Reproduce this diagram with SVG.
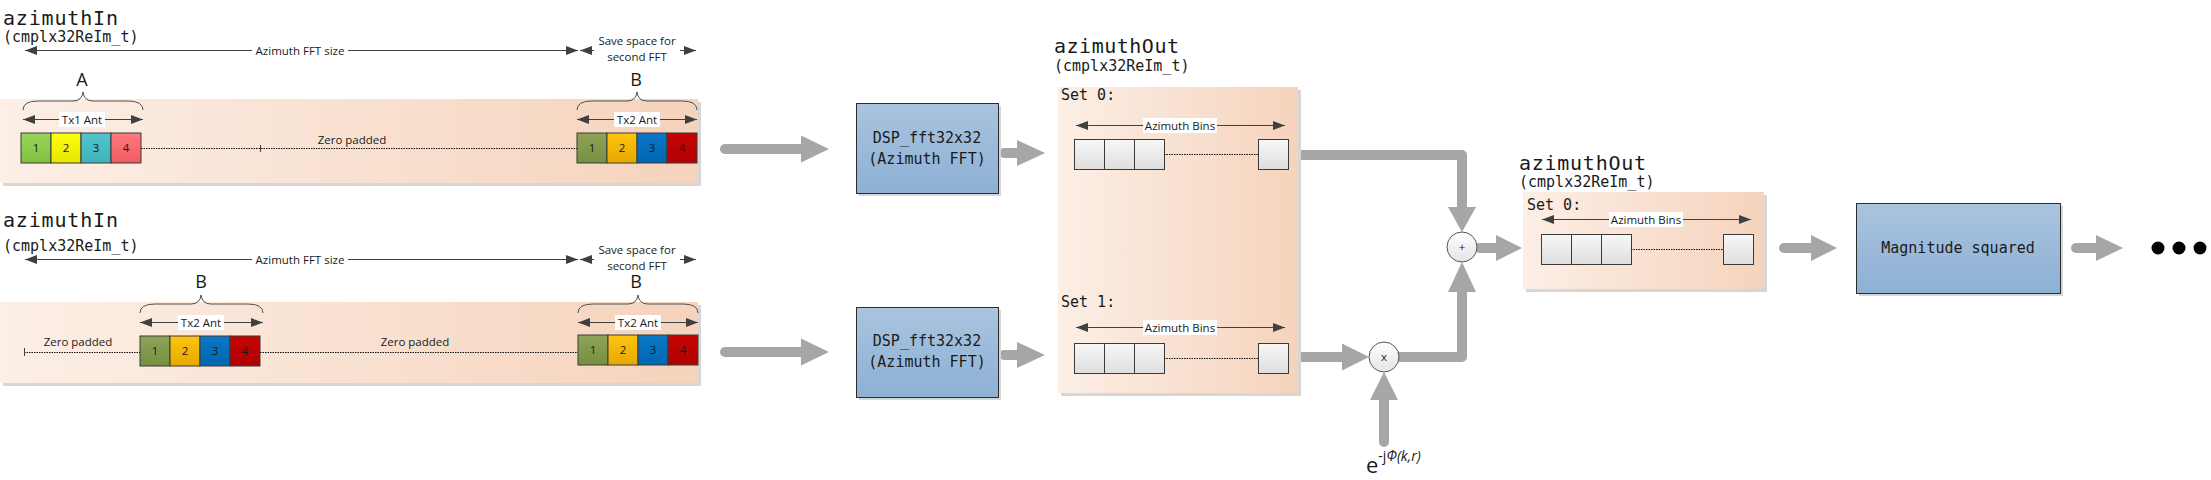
<svg xmlns="http://www.w3.org/2000/svg" width="2211" height="480" viewBox="0 0 2211 480">
<defs>
<linearGradient id="peach" x1="0" y1="0" x2="1" y2="0">
<stop offset="0" stop-color="#fcefe6"/>
<stop offset="1" stop-color="#f5d3bc"/>
</linearGradient>
<linearGradient id="blue" x1="0" y1="0" x2="0" y2="1">
<stop offset="0" stop-color="#a9c4df"/>
<stop offset="1" stop-color="#8db0d4"/>
</linearGradient>
<linearGradient id="cell" x1="0" y1="0" x2="0" y2="1">
<stop offset="0" stop-color="#f7f7f7"/>
<stop offset="1" stop-color="#dedede"/>
</linearGradient>
<linearGradient id="g1" x1="0" y1="0" x2="0" y2="1"><stop offset="0" stop-color="#9bd45a"/><stop offset="1" stop-color="#80c040"/></linearGradient>
<linearGradient id="g2" x1="0" y1="0" x2="0" y2="1"><stop offset="0" stop-color="#ffff10"/><stop offset="1" stop-color="#e6e600"/></linearGradient>
<linearGradient id="g3" x1="0" y1="0" x2="0" y2="1"><stop offset="0" stop-color="#52c4cc"/><stop offset="1" stop-color="#3fb2bb"/></linearGradient>
<linearGradient id="g4" x1="0" y1="0" x2="0" y2="1"><stop offset="0" stop-color="#ff7a80"/><stop offset="1" stop-color="#f05a60"/></linearGradient>
<linearGradient id="h1" x1="0" y1="0" x2="0" y2="1"><stop offset="0" stop-color="#8ea358"/><stop offset="1" stop-color="#76903e"/></linearGradient>
<linearGradient id="h2" x1="0" y1="0" x2="0" y2="1"><stop offset="0" stop-color="#ffc410"/><stop offset="1" stop-color="#e6a800"/></linearGradient>
<linearGradient id="h3" x1="0" y1="0" x2="0" y2="1"><stop offset="0" stop-color="#0a78c6"/><stop offset="1" stop-color="#0066b0"/></linearGradient>
<linearGradient id="h4" x1="0" y1="0" x2="0" y2="1"><stop offset="0" stop-color="#c80404"/><stop offset="1" stop-color="#b00000"/></linearGradient>
<linearGradient id="circ" x1="0" y1="0" x2="0" y2="1"><stop offset="0" stop-color="#ffffff"/><stop offset="1" stop-color="#e4e4e4"/></linearGradient>
<marker id="ah" viewBox="0 0 12 9" refX="12" refY="4.5" markerWidth="12" markerHeight="9" markerUnits="userSpaceOnUse" orient="auto-start-reverse">
<path d="M0,0 L12,4.5 L0,9 z" fill="#404040"/>
</marker>
</defs>
<style>
.mono{font-family:"DejaVu Sans Mono","Liberation Mono",monospace;fill:#1a1a1a}
.big{font-size:20px}
.sub{font-size:15px}
.lbl{font-family:"Open Sans","Liberation Sans",sans-serif;font-size:11.5px;fill:#1a1a1a}
.letter{font-family:"Open Sans","Liberation Sans",sans-serif;font-size:18px;fill:#1a1a1a}
.num{font-family:"Open Sans","Liberation Sans",sans-serif;font-size:11.5px;fill:#1a1a1a;text-anchor:middle}
.dim{stroke:#404040;stroke-width:1;fill:none;marker-start:url(#ah);marker-end:url(#ah)}
.dot{stroke:#111111;stroke-width:1;stroke-dasharray:1.5 1;fill:none}
.tick{stroke:#404040;stroke-width:1}
.brace{stroke:#505050;stroke-width:1;fill:none}
.band{fill:url(#peach)}
.shadow{fill:#d6d6d6}
.cellbox{stroke:#3a3a3a;stroke-width:1}
.grey{fill:url(#cell);stroke:#3a3a3a;stroke-width:1}
.box{fill:url(#blue);stroke:#2b2b2b;stroke-width:1}
.wbg{fill:#ffffff}
.shaft{stroke:#a6a6a6;stroke-width:10;fill:none;stroke-linecap:round;stroke-linejoin:round}
.head{fill:#a6a6a6}
.op{fill:url(#circ);stroke:#555555;stroke-width:1}
.mid{text-anchor:middle}
</style>

<!-- Input row 1 -->
<g id="azimuthIn1">
<text class="mono big" x="3" y="25" textLength="115">azimuthIn</text>
<text class="mono sub" x="3" y="42">(cmplx32ReIm_t)</text>
<line class="dim" x1="25" y1="50.5" x2="578" y2="50.5"/>
<rect class="wbg" x="252" y="43" width="96" height="15"/>
<text class="lbl mid" x="300" y="54.5">Azimuth FFT size</text>
<line class="dim" x1="580" y1="50.5" x2="696" y2="50.5"/>
<rect class="wbg" x="594" y="35" width="86" height="30"/>
<text class="lbl mid" x="637" y="45">Save space for</text>
<text class="lbl mid" x="637" y="61">second FFT</text>
<text class="letter mid" x="82" y="86">A</text>
<text class="letter mid" x="636" y="86">B</text>
<rect class="shadow" x="3" y="102" width="698" height="84"/>
<rect class="band" x="0" y="99" width="698" height="84"/>
<path class="brace" d="M23,110 Q23,101 38,101 L73,101 Q82,101 83,92 Q84,101 93,101 L128,101 Q143,101 143,110"/>
<line class="dim" x1="23" y1="119.5" x2="143" y2="119.5"/>
<rect class="wbg" x="59" y="112" width="46" height="15"/>
<text class="lbl mid" x="82" y="123.5">Tx1 Ant</text>
<path class="brace" d="M577,110 Q577,101 592,101 L627,101 Q636,101 637,92 Q638,101 647,101 L682,101 Q697,101 697,110"/>
<line class="dim" x1="577" y1="119.5" x2="697" y2="119.5"/>
<rect class="wbg" x="614" y="112" width="46" height="15"/>
<text class="lbl mid" x="637" y="123.5">Tx2 Ant</text>
<rect class="cellbox" x="21" y="133" width="30" height="30" fill="url(#g1)"/>
<rect class="cellbox" x="51" y="133" width="30" height="30" fill="url(#g2)"/>
<rect class="cellbox" x="81" y="133" width="30" height="30" fill="url(#g3)"/>
<rect class="cellbox" x="111" y="133" width="30" height="30" fill="url(#g4)"/>
<text class="num" x="36" y="152">1</text><text class="num" x="66" y="152">2</text><text class="num" x="96" y="152">3</text><text class="num" x="126" y="152">4</text>
<line class="dot" x1="141" y1="148.5" x2="577" y2="148.5"/>
<line class="tick" x1="260.5" y1="145" x2="260.5" y2="152"/>
<text class="lbl mid" x="352" y="144">Zero padded</text>
<rect class="cellbox" x="577" y="133" width="30" height="30" fill="url(#h1)"/>
<rect class="cellbox" x="607" y="133" width="30" height="30" fill="url(#h2)"/>
<rect class="cellbox" x="637" y="133" width="30" height="30" fill="url(#h3)"/>
<rect class="cellbox" x="667" y="133" width="30" height="30" fill="url(#h4)"/>
<text class="num" x="592" y="152">1</text><text class="num" x="622" y="152">2</text><text class="num" x="652" y="152">3</text><text class="num" x="682" y="152">4</text>
</g>

<!-- Input row 2 -->
<g id="azimuthIn2">
<text class="mono big" x="3" y="227" textLength="115">azimuthIn</text>
<text class="mono sub" x="3" y="251">(cmplx32ReIm_t)</text>
<line class="dim" x1="25" y1="259.5" x2="578" y2="259.5"/>
<rect class="wbg" x="252" y="252" width="96" height="15"/>
<text class="lbl mid" x="300" y="263.5">Azimuth FFT size</text>
<line class="dim" x1="580" y1="259.5" x2="696" y2="259.5"/>
<rect class="wbg" x="594" y="244" width="86" height="30"/>
<text class="lbl mid" x="637" y="254">Save space for</text>
<text class="lbl mid" x="637" y="270">second FFT</text>
<text class="letter mid" x="201" y="288">B</text>
<text class="letter mid" x="636" y="288">B</text>
<rect class="shadow" x="3" y="305" width="698" height="81"/>
<rect class="band" x="0" y="302" width="698" height="81"/>
<path class="brace" d="M140,313 Q140,304 155,304 L191,304 Q200,304 201,295 Q202,304 211,304 L248,304 Q263,304 263,313"/>
<line class="dim" x1="140" y1="322.5" x2="263" y2="322.5"/>
<rect class="wbg" x="178" y="315" width="46" height="15"/>
<text class="lbl mid" x="201" y="326.5">Tx2 Ant</text>
<path class="brace" d="M578,313 Q578,304 593,304 L628,304 Q637,304 638,295 Q639,304 648,304 L683,304 Q698,304 698,313"/>
<line class="dim" x1="578" y1="322.5" x2="698" y2="322.5"/>
<rect class="wbg" x="615" y="315" width="46" height="15"/>
<text class="lbl mid" x="638" y="326.5">Tx2 Ant</text>
<line class="dot" x1="24" y1="352.5" x2="140" y2="352.5"/>
<line class="tick" x1="24.5" y1="348" x2="24.5" y2="356"/>
<text class="lbl mid" x="78" y="346">Zero padded</text>
<rect class="cellbox" x="140" y="336" width="30" height="30" fill="url(#h1)"/>
<rect class="cellbox" x="170" y="336" width="30" height="30" fill="url(#h2)"/>
<rect class="cellbox" x="200" y="336" width="30" height="30" fill="url(#h3)"/>
<rect class="cellbox" x="230" y="336" width="30" height="30" fill="url(#h4)"/>
<text class="num" x="155" y="355">1</text><text class="num" x="185" y="355">2</text><text class="num" x="215" y="355">3</text><text class="num" x="245" y="355">4</text>
<line class="dot" x1="260" y1="352.5" x2="578" y2="352.5"/>
<text class="lbl mid" x="415" y="346">Zero padded</text>
<rect class="cellbox" x="578" y="335" width="30" height="30" fill="url(#h1)"/>
<rect class="cellbox" x="608" y="335" width="30" height="30" fill="url(#h2)"/>
<rect class="cellbox" x="638" y="335" width="30" height="30" fill="url(#h3)"/>
<rect class="cellbox" x="668" y="335" width="30" height="30" fill="url(#h4)"/>
<text class="num" x="593" y="354">1</text><text class="num" x="623" y="354">2</text><text class="num" x="653" y="354">3</text><text class="num" x="683" y="354">4</text>
</g>

<!-- Connectors -->
<g id="connectors">
<line class="shaft" x1="725" y1="149" x2="803" y2="149"/>
<polygon class="head" points="801,135.5 829,149 801,162.5"/>
<line class="shaft" x1="725" y1="352" x2="803" y2="352"/>
<polygon class="head" points="801,338.5 829,352 801,365.5"/>
<line class="shaft" x1="1004" y1="153" x2="1019" y2="153"/>
<polygon class="head" points="1017,140 1045,153 1017,166"/>
<line class="shaft" x1="1004" y1="355" x2="1019" y2="355"/>
<polygon class="head" points="1017,342 1045,355 1017,368"/>
<path class="shaft" d="M1302,155 H1462 V209"/>
<polygon class="head" points="1448,207 1462,232 1476,207"/>
<path class="shaft" d="M1392,357 H1462 V290"/>
<polygon class="head" points="1448,292 1462,262 1476,292"/>
<line class="shaft" x1="1302" y1="357" x2="1344" y2="357"/>
<polygon class="head" points="1342,343.5 1369,357 1342,370.5"/>
<line class="shaft" x1="1384" y1="442" x2="1384" y2="398"/>
<polygon class="head" points="1370,400 1384,372 1398,400"/>
<line class="shaft" x1="1479" y1="248" x2="1498" y2="248"/>
<polygon class="head" points="1496,235 1522,248 1496,261"/>
<line class="shaft" x1="1784" y1="248" x2="1813" y2="248"/>
<polygon class="head" points="1811,235 1837,248 1811,261"/>
<line class="shaft" x1="2076" y1="248" x2="2098" y2="248"/>
<polygon class="head" points="2096,235 2123,248 2096,261"/>
</g>

<!-- FFT blocks -->
<g id="fft1">
<rect class="shadow" x="859" y="106" width="142" height="90"/>
<rect class="box" x="856.5" y="103.5" width="142" height="90"/>
<text class="mono sub mid" x="927" y="143">DSP_fft32x32</text>
<text class="mono sub mid" x="927" y="164">(Azimuth FFT)</text>
</g>
<g id="fft2">
<rect class="shadow" x="859" y="310" width="142" height="90"/>
<rect class="box" x="856.5" y="307.5" width="142" height="90"/>
<text class="mono sub mid" x="927" y="346">DSP_fft32x32</text>
<text class="mono sub mid" x="927" y="367">(Azimuth FFT)</text>
</g>

<!-- azimuthOut (two sets) -->
<g id="azimuthOut1">
<text class="mono big" x="1054" y="53" textLength="125">azimuthOut</text>
<text class="mono sub" x="1054" y="71">(cmplx32ReIm_t)</text>
<rect class="shadow" x="1061" y="90" width="240" height="306"/>
<rect class="band" x="1058" y="87" width="240" height="306"/>
<text class="mono sub" x="1061" y="100">Set 0:</text>
<line class="dim" x1="1076" y1="125.5" x2="1285" y2="125.5"/>
<rect class="wbg" x="1143" y="118" width="74" height="15"/>
<text class="lbl mid" x="1180" y="129.5">Azimuth Bins</text>
<rect class="grey" x="1074.5" y="139.5" width="30" height="30"/>
<rect class="grey" x="1104.5" y="139.5" width="30" height="30"/>
<rect class="grey" x="1134.5" y="139.5" width="30" height="30"/>
<line class="dot" x1="1164" y1="154.5" x2="1258" y2="154.5"/>
<rect class="grey" x="1258.5" y="139.5" width="30" height="30"/>
<text class="mono sub" x="1061" y="307">Set 1:</text>
<line class="dim" x1="1076" y1="327.5" x2="1285" y2="327.5"/>
<rect class="wbg" x="1143" y="320" width="74" height="15"/>
<text class="lbl mid" x="1180" y="331.5">Azimuth Bins</text>
<rect class="grey" x="1074.5" y="343.5" width="30" height="30"/>
<rect class="grey" x="1104.5" y="343.5" width="30" height="30"/>
<rect class="grey" x="1134.5" y="343.5" width="30" height="30"/>
<line class="dot" x1="1164" y1="358.5" x2="1258" y2="358.5"/>
<rect class="grey" x="1258.5" y="343.5" width="30" height="30"/>
</g>

<!-- operators -->
<g id="mult">
<circle class="op" cx="1384" cy="357" r="15"/>
<text class="num" x="1384" y="361" font-size="10">x</text>
<text x="1366" y="473" font-family="Open Sans, Liberation Sans, sans-serif" font-size="22" fill="#1a1a1a">e<tspan dy="-12" font-size="14">-j</tspan><tspan font-size="14" font-style="italic">Φ(k,r)</tspan></text>
</g>
<g id="add">
<circle class="op" cx="1462" cy="247" r="15"/>
<text class="num" x="1462" y="251" font-size="10">+</text>
</g>

<!-- azimuthOut combined -->
<g id="azimuthOut2">
<text class="mono big" x="1519" y="170" textLength="127">azimuthOut</text>
<text class="mono sub" x="1519" y="187">(cmplx32ReIm_t)</text>
<rect class="shadow" x="1526" y="195" width="241" height="97"/>
<rect class="band" x="1523" y="192" width="241" height="97"/>
<text class="mono sub" x="1527" y="210">Set 0:</text>
<line class="dim" x1="1542" y1="219.5" x2="1751" y2="219.5"/>
<rect class="wbg" x="1609" y="212" width="74" height="15"/>
<text class="lbl mid" x="1646" y="223.5">Azimuth Bins</text>
<rect class="grey" x="1541.5" y="234.5" width="30" height="30"/>
<rect class="grey" x="1571.5" y="234.5" width="30" height="30"/>
<rect class="grey" x="1601.5" y="234.5" width="30" height="30"/>
<line class="dot" x1="1631" y1="249.5" x2="1723" y2="249.5"/>
<rect class="grey" x="1723.5" y="234.5" width="30" height="30"/>
</g>

<g id="magnitude">
<rect class="shadow" x="1859" y="206" width="204" height="90"/>
<rect class="box" x="1856.5" y="203.5" width="204" height="90"/>
<text class="mono sub mid" x="1958" y="253">Magnitude squared</text>
</g>

<g id="ellipsis">
<circle cx="2158" cy="248" r="6.5" fill="#000"/>
<circle cx="2179" cy="248" r="6.5" fill="#000"/>
<circle cx="2200" cy="248" r="6.5" fill="#000"/>
</g>
</svg>
